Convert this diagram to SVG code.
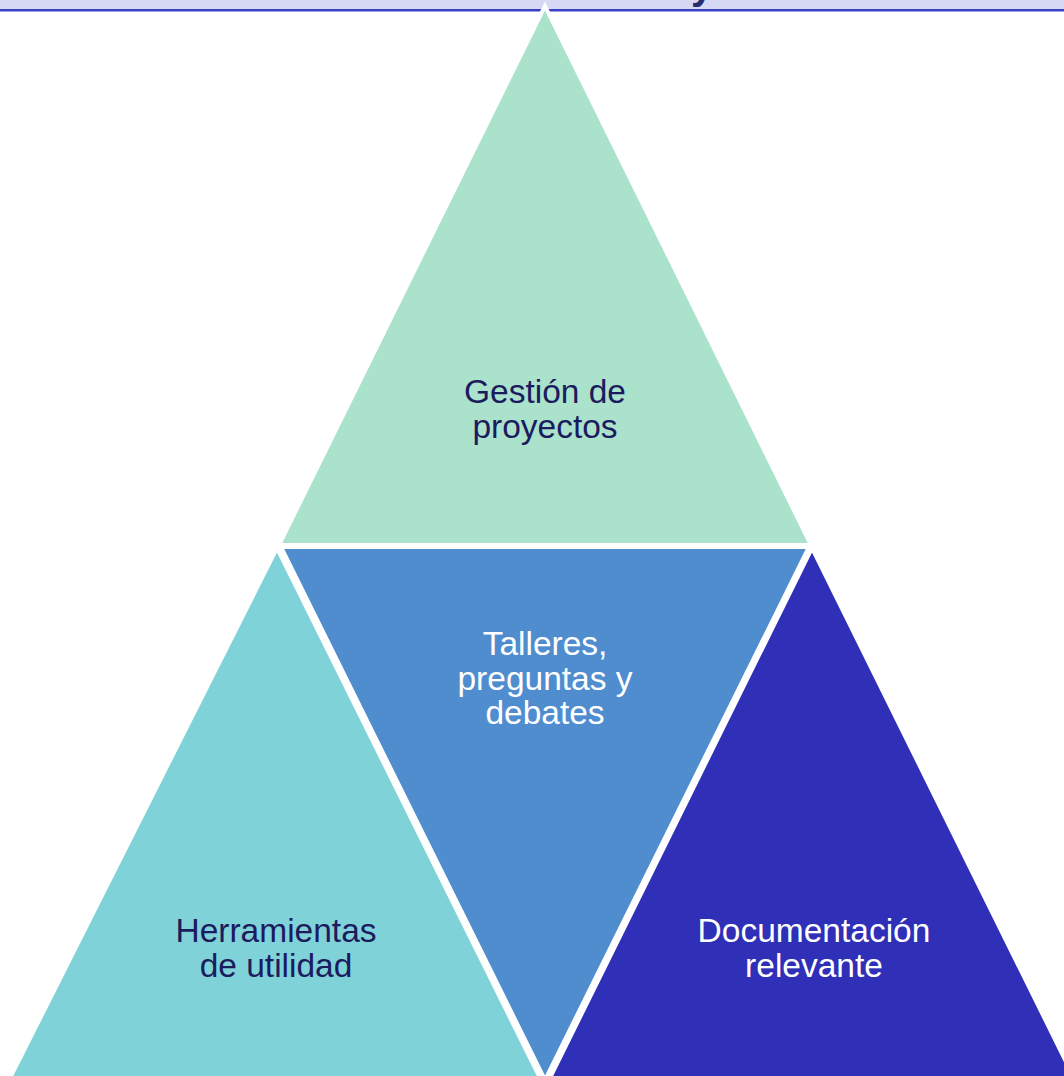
<svg xmlns="http://www.w3.org/2000/svg" width="1064" height="1076" viewBox="0 0 1064 1076">
<style>
.tri{stroke:#ffffff;stroke-width:4;stroke-linejoin:miter}
.lbl{font-family:"Liberation Sans",Arial,sans-serif;font-size:33.5px;text-anchor:middle}
.dark{fill:#1b1b5e}
.light{fill:#ffffff}
</style>
<rect x="0" y="0" width="1064" height="1076" fill="#ffffff"/>
<g id="header">
<rect x="0" y="0" width="1064" height="10" fill="#d6d8f4"/>
<rect x="0" y="9" width="1064" height="2.5" fill="#3a3fc4"/>
<text x="702" y="-1" font-family="Liberation Sans, Arial, sans-serif" font-size="40" font-weight="bold" fill="#262c6e" text-anchor="middle">y</text>
</g>
<g id="node-top">
<polygon class="tri" points="545,6 279,545 811,545" fill="#abe2cc"/>
<text class="lbl dark" x="545" y="403">Gestión de</text>
<text class="lbl dark" x="545" y="438">proyectos</text>
</g>
<g id="node-left">
<polygon class="tri" points="277,548 5,1088 545,1088" fill="#7fd3d8"/>
<text class="lbl dark" x="276" y="942">Herramientas</text>
<text class="lbl dark" x="276" y="977">de utilidad</text>
</g>
<g id="node-middle">
<polygon class="tri" points="281,547 809,547 545,1080" fill="#508dcf"/>
<text class="lbl light" x="545" y="655">Talleres,</text>
<text class="lbl light" x="545" y="690">preguntas y</text>
<text class="lbl light" x="545" y="724">debates</text>
</g>
<g id="node-right">
<polygon class="tri" points="812,548 545,1088 1079,1088" fill="#2f2fb8"/>
<text class="lbl light" x="814" y="942">Documentación</text>
<text class="lbl light" x="814" y="977">relevante</text>
</g>
<g id="connectors"></g>
</svg>
